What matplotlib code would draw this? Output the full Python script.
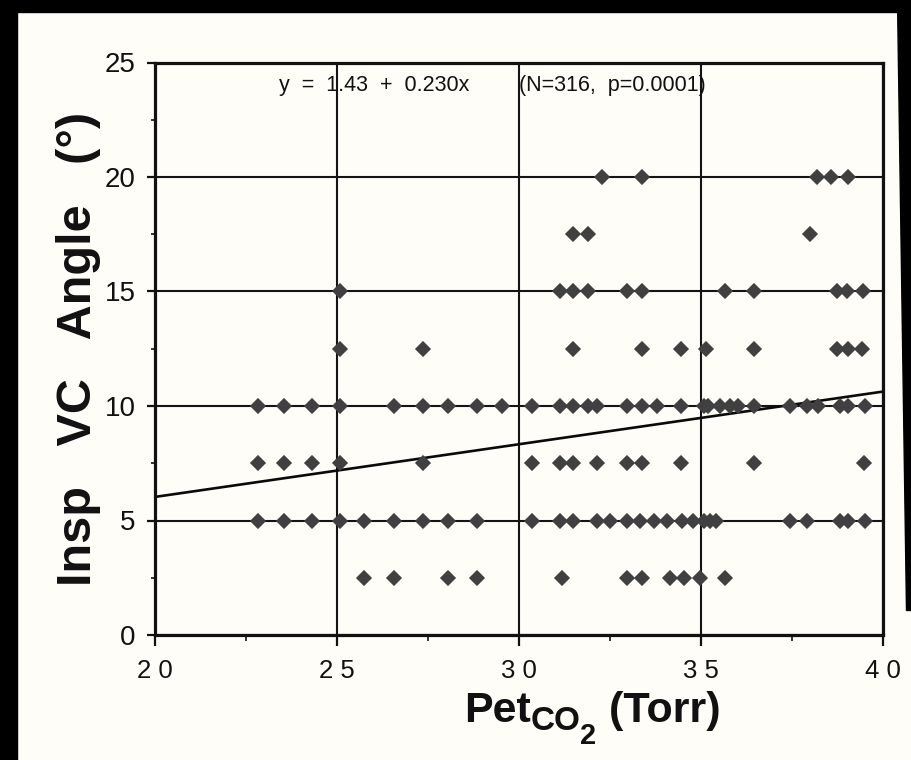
import matplotlib
matplotlib.use("Agg")
import matplotlib.pyplot as plt
from matplotlib.patches import Rectangle, Polygon
import numpy as np

plt.rcParams['font.family'] = ['Liberation Sans', 'DejaVu Sans']

# Pet CO2 (Torr) values of the observations, one list per angle level (deg)
pet_20 = [32.28, 33.38, 38.18, 38.57, 39.03]
pet_17_5 = [31.49, 31.89, 38.0]
pet_15 = [25.08, 31.14, 31.49, 31.89, 32.97, 33.38, 35.67, 36.46, 38.73, 39.0, 39.46]
pet_12_5 = [25.08, 27.37, 31.49, 33.38, 34.46, 35.14, 36.46, 38.73, 39.03, 39.41]
pet_10 = [22.82, 23.55, 24.31, 25.08, 26.57, 27.37, 28.06, 28.85, 29.54, 30.36,
          31.14, 31.49, 31.89, 32.15, 32.97, 33.38, 33.79, 34.46, 35.07, 35.2,
          35.53, 35.8, 36.03, 36.46, 37.45, 37.9, 38.22, 38.82, 39.05, 39.5]
pet_7_5 = [22.82, 23.55, 24.31, 25.08, 27.37, 30.36, 31.14, 31.49, 32.15, 32.97,
           33.38, 34.46, 36.46, 39.49]
pet_5 = [22.82, 23.55, 24.31, 25.08, 25.74, 26.57, 27.37, 28.06, 28.85, 30.36,
         31.14, 31.49, 32.15, 32.51, 32.97, 33.33, 33.7, 34.06, 34.47, 34.79,
         35.07, 35.25, 35.4, 37.45, 37.9, 38.82, 39.05, 39.5]
pet_2_5 = [25.74, 26.57, 28.06, 28.85, 31.19, 32.97, 33.38, 34.16, 34.52, 34.98, 35.67]

angle_rows = {
    20.0: pet_20,
    17.5: pet_17_5,
    15.0: pet_15,
    12.5: pet_12_5,
    10.0: pet_10,
    7.5: pet_7_5,
    5.0: pet_5,
    2.5: pet_2_5,
}

# least squares fit
intercept = 1.43
slope = 0.230
n_obs = 316
p_value = "0.0001"

x_ticks = [20, 25, 30, 35, 40]
x_ticklabels = ["2 0", "2 5", "3 0", "3 5", "4 0"]
y_ticks = [0, 5, 10, 15, 20, 25]

W, H = 911, 760
paper = '#fefdf8'
dot = '#404040'
ink = '#111111'

fig = plt.figure(figsize=(W / 100, H / 100), dpi=100, facecolor=paper)
ax = fig.add_axes([155 / W, 1 - 635 / H, 728 / W, 572.5 / H], facecolor=paper)

x = np.concatenate([np.array(v) for v in angle_rows.values()])
y = np.concatenate([np.full(len(v), k) for k, v in angle_rows.items()])

ax.plot(x, y, 'D', ms=7.6, mfc=dot, mec=dot, mew=1.1, zorder=3, clip_on=False)

fit_x = np.array([20.0, 40.0])
ax.plot(fit_x, intercept + slope * fit_x, color='#0a0a0a', lw=1.9, zorder=2.5)

ax.set_xlim(20, 40)
ax.set_ylim(0, 25)
ax.set_xticks(x_ticks)
ax.set_xticklabels(x_ticklabels)
ax.set_xticks([22.5, 27.5, 32.5, 37.5], minor=True)
ax.set_yticks(y_ticks)
ax.set_yticks([2.5, 7.5, 12.5, 17.5, 22.5], minor=True)

ax.tick_params(axis='x', which='major', direction='out', length=8, width=1.6,
               pad=9, labelsize=18.5, colors=ink)
ax.tick_params(axis='x', which='minor', direction='out', length=4, width=1.2, colors=ink)
ax.tick_params(axis='y', which='major', direction='out', length=6, width=1.6,
               pad=8, labelsize=20, colors=ink)
ax.tick_params(axis='y', which='minor', direction='out', length=3, width=1.2, colors=ink)

ax.grid(True, which='major', color='#141414', lw=1.5)
ax.set_axisbelow(True)
for s in ax.spines.values():
    s.set_linewidth(2.3)
    s.set_color(ink)

ax.text(23.4, 24.0, f"y  =  {intercept:.2f}  +  {slope:.3f}x", ha='left', va='center',
        fontsize=15.5, color=ink)
ax.text(30.0, 24.0, f"(N={n_obs},  p={p_value})", ha='left', va='center',
        fontsize=15.5, color=ink)

ax.set_ylabel("Insp   VC   Angle   (°)", fontsize=35, fontweight='bold', color=ink)
ax.yaxis.set_label_coords(-0.074, 0.5)

# x axis label with stacked subscripts, placed piece by piece
renderer = fig.canvas.get_renderer()
pieces = [("Pet", 31, 0), ("CO", 24, -8), ("2", 21, -22), (" (Torr)", 31, 0)]
widths = []
for txt, size, dy in pieces:
    t = fig.text(0, 0, txt, fontsize=size, fontweight='bold')
    widths.append(t.get_window_extent(renderer).width)
    t.remove()
cx = 592 - sum(widths) / 2
base = 722
for (txt, size, dy), w in zip(pieces, widths):
    fig.text(cx / W, 1 - (base - dy) / H, txt, fontsize=size, fontweight='bold',
             ha='left', va='baseline', color=ink)
    cx += w

# dark scanner edges
fig.add_artist(Rectangle((0, 0), 17 / W, 1, transform=fig.transFigure,
                         color='black', zorder=10))
fig.add_artist(Rectangle((0, 1 - 12 / H), 1, 12 / H, transform=fig.transFigure,
                         color='black', zorder=10))
fig.add_artist(Polygon([(897 / W, 1), (1, 1), (1, 1 - 610 / H), (906 / W, 1 - 610 / H)],
                       closed=True, transform=fig.transFigure, color='black', zorder=10))

fig.savefig('out.png', dpi=100, facecolor=fig.get_facecolor())
